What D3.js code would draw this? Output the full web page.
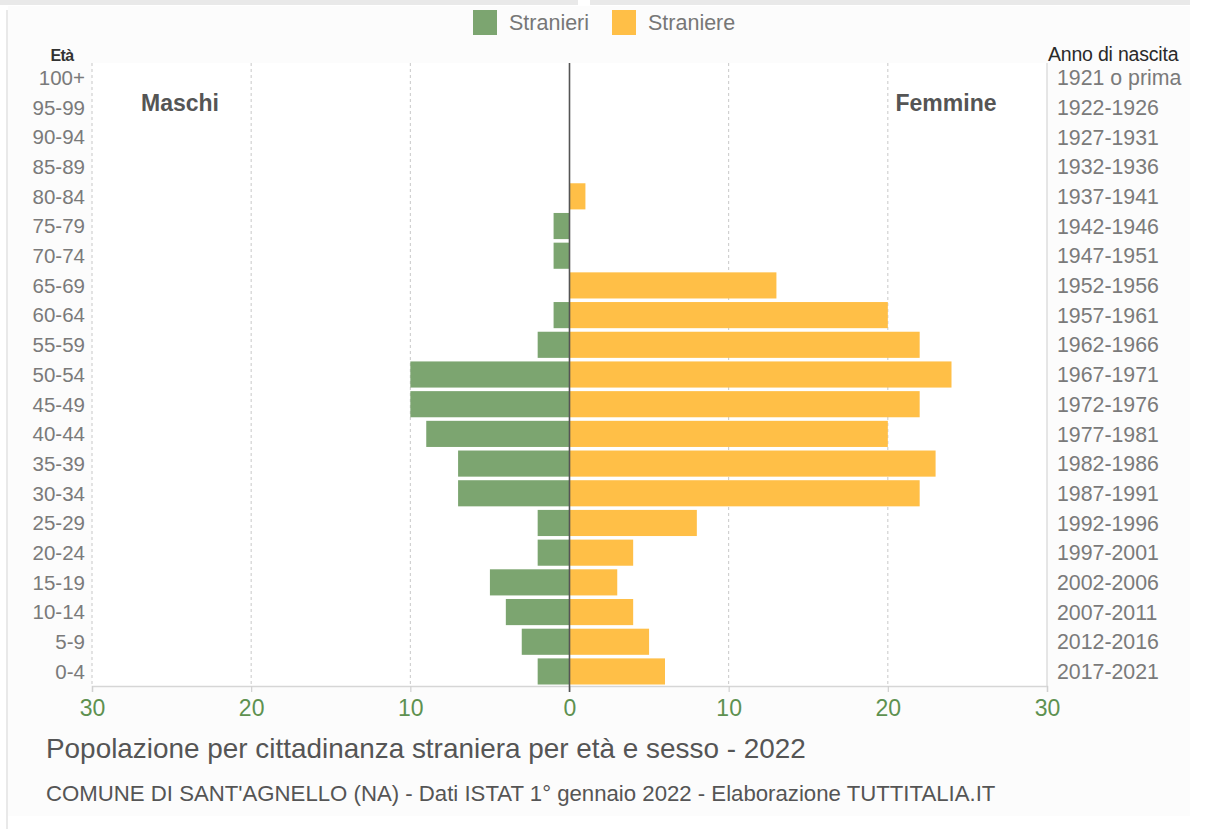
<!DOCTYPE html>
<html>
<head>
<meta charset="utf-8">
<script src="https://cdn.jsdelivr.net/npm/d3@7"></script>
<style>
  html, body { margin: 0; padding: 0; background: #ffffff; }
  svg { display: block; font-family: "Liberation Sans", Arial, Helvetica, sans-serif; }
</style>
</head>
<body>
<svg id="chart" width="1218" height="829"></svg>
<script>
// Age classes, youngest first
const ageClasses = ["0-4","5-9","10-14","15-19","20-24","25-29","30-34","35-39","40-44","45-49",
  "50-54","55-59","60-64","65-69","70-74","75-79","80-84","85-89","90-94","95-99","100+"];
const birthYears = ["2017-2021","2012-2016","2007-2011","2002-2006","1997-2001","1992-1996",
  "1987-1991","1982-1986","1977-1981","1972-1976","1967-1971","1962-1966","1957-1961",
  "1952-1956","1947-1951","1942-1946","1937-1941","1932-1936","1927-1931","1922-1926","1921 o prima"];
// Foreign residents by age class
const males   = [2,3,4,5,2,2,7,7,9,10,10,2,1,0,1,1,0,0,0,0,0];
const females = [6,5,4,3,4,8,22,23,20,22,24,22,20,13,0,0,1,0,0,0,0];
const xTicks = [-30,-20,-10,0,10,20,30];
const seriesNames = ["Stranieri","Straniere"];
const seriesColors = ["#7ca570","#ffbf47"];

const svg = d3.select("#chart");

// page frame
svg.append("rect").attr("x", 8).attr("y", 6).attr("width", 1182).attr("height", 810).attr("fill", "#fcfcfc");
svg.append("rect").attr("x", 0).attr("y", 0).attr("width", 578).attr("height", 5).attr("fill", "#e9e9e9");
svg.append("rect").attr("x", 590).attr("y", 0).attr("width", 600).attr("height", 5).attr("fill", "#e9e9e9");
svg.append("line").attr("x1", 7).attr("x2", 7).attr("y1", 10).attr("y2", 829)
  .attr("stroke", "#e2e2e2").attr("stroke-width", 1.5);

const plotLeft = 92, plotRight = 1047, plotTop = 63, plotBottom = 686;

const x = d3.scaleLinear().domain([-30, 30]).range([plotLeft, plotRight]);
const y = d3.scaleBand().domain(ageClasses.slice().reverse()).range([plotTop, plotBottom]).paddingInner(0.12).paddingOuter(0.05);

svg.append("rect").attr("x", plotLeft).attr("y", plotTop).attr("width", plotRight - plotLeft).attr("height", plotBottom - plotTop).attr("fill", "#ffffff");

// vertical grid
svg.append("g").selectAll("line")
  .data(xTicks.filter(t => t !== 0 && t !== 30))
  .join("line")
  .attr("x1", d => x(d)).attr("x2", d => x(d))
  .attr("y1", plotTop).attr("y2", plotBottom)
  .attr("stroke", "#c8c8c8").attr("stroke-width", 1).attr("stroke-dasharray", "3,3");
svg.append("line").attr("x1", x(30)).attr("x2", x(30)).attr("y1", plotTop).attr("y2", plotBottom)
  .attr("stroke", "#d6d6d6").attr("stroke-width", 1.2);

// bars
const rows = ageClasses.map((a, i) => ({ age: a, m: males[i], f: females[i] }));
svg.append("g").selectAll("rect")
  .data(rows.filter(d => d.m > 0))
  .join("rect")
  .attr("x", d => x(-d.m)).attr("width", d => x(0) - x(-d.m))
  .attr("y", d => y(d.age)).attr("height", y.bandwidth())
  .attr("fill", seriesColors[0]);
svg.append("g").selectAll("rect")
  .data(rows.filter(d => d.f > 0))
  .join("rect")
  .attr("x", x(0)).attr("width", d => x(d.f) - x(0))
  .attr("y", d => y(d.age)).attr("height", y.bandwidth())
  .attr("fill", seriesColors[1]);

// bottom axis
const xAxis = d3.axisBottom(x).tickValues(xTicks).tickFormat(d => Math.abs(d)).tickSize(6).tickPadding(8);
const gx = svg.append("g").attr("transform", `translate(0,${plotBottom})`).call(xAxis);
gx.select(".domain").attr("stroke", "#d6d6d6").attr("stroke-width", 1.5);
gx.selectAll(".tick line").attr("stroke", "#d0d0d0").attr("stroke-width", 1.2);
gx.selectAll(".tick text").attr("fill", "#5e9150").attr("font-size", 23).attr("font-family", "Liberation Sans, Arial, sans-serif");

// zero line
svg.append("line").attr("x1", x(0)).attr("x2", x(0)).attr("y1", plotTop).attr("y2", plotBottom + 6)
  .attr("stroke", "#555").attr("stroke-width", 1.6);

// age labels
svg.append("g").selectAll("text")
  .data(ageClasses)
  .join("text")
  .attr("x", plotLeft - 7).attr("y", d => y(d) + y.bandwidth() / 2)
  .attr("dy", "0.36em").attr("text-anchor", "end")
  .attr("font-size", 20.5).attr("fill", "#7a7a7a")
  .text(d => d);

// birth-year labels
svg.append("g").selectAll("text")
  .data(birthYears)
  .join("text")
  .attr("x", plotRight + 10).attr("y", (d, i) => y(ageClasses[i]) + y.bandwidth() / 2)
  .attr("dy", "0.36em").attr("text-anchor", "start")
  .attr("font-size", 21.3).attr("fill", "#7a7a7a")
  .text(d => d);

svg.append("text").attr("x", 62).attr("y", 61).attr("text-anchor", "middle")
  .attr("font-size", 16).attr("font-weight", "bold").attr("fill", "#333").attr("letter-spacing", -0.6).text("Età");
svg.append("text").attr("x", 1048).attr("y", 61).attr("text-anchor", "start")
  .attr("font-size", 19.5).attr("fill", "#2a2a2a").attr("letter-spacing", -0.2).text("Anno di nascita");

svg.append("text").attr("x", 180).attr("y", 111).attr("text-anchor", "middle")
  .attr("font-size", 23).attr("font-weight", "bold").attr("fill", "#555").text("Maschi");
svg.append("text").attr("x", 946).attr("y", 111).attr("text-anchor", "middle")
  .attr("font-size", 23).attr("font-weight", "bold").attr("fill", "#555").text("Femmine");

// legend
const legendX = [473, 612];
const lg = svg.append("g").selectAll("g").data(seriesNames).join("g")
  .attr("transform", (d, i) => `translate(${legendX[i]},10)`);
lg.append("rect").attr("width", 24).attr("height", 25).attr("fill", (d, i) => seriesColors[i]);
lg.append("text").attr("x", 36).attr("y", 12.5).attr("dy", "0.36em")
  .attr("font-size", 21.5).attr("fill", "#777").text(d => d);

// titles
svg.append("text").attr("x", 46).attr("y", 758)
  .attr("font-size", 27.9).attr("fill", "#555")
  .text("Popolazione per cittadinanza straniera per età e sesso - 2022");
svg.append("text").attr("x", 46).attr("y", 801)
  .attr("font-size", 22.2).attr("fill", "#555")
  .text("COMUNE DI SANT'AGNELLO (NA) - Dati ISTAT 1° gennaio 2022 - Elaborazione TUTTITALIA.IT");
</script>
</body>
</html>
